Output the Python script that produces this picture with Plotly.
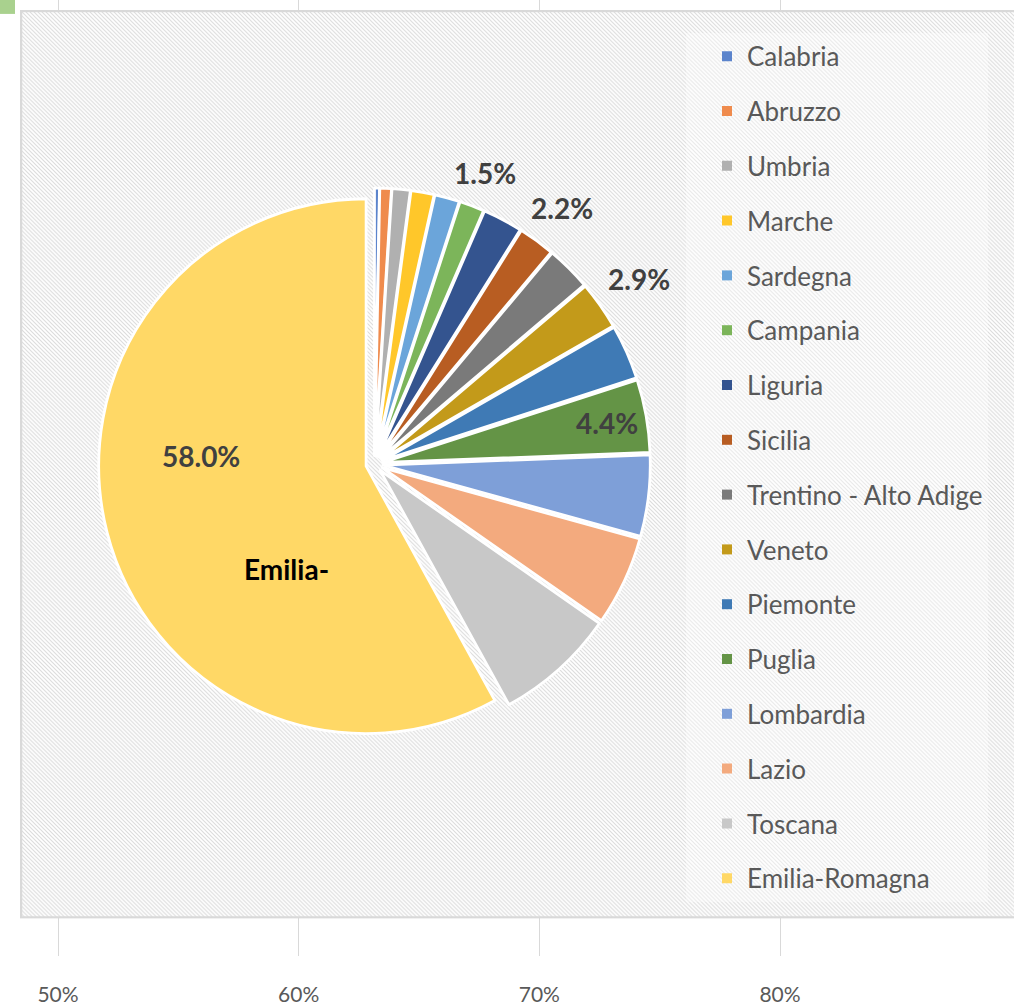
import base64
import math
import plotly.graph_objects as go

# ---- data -------------------------------------------------------------
regions = ["Calabria", "Abruzzo", "Umbria", "Marche", "Sardegna", "Campania",
           "Liguria", "Sicilia", "Trentino - Alto Adige", "Veneto", "Piemonte",
           "Puglia", "Lombardia", "Lazio", "Toscana", "Emilia-Romagna"]
shares = [0.3, 0.7, 1.1, 1.4, 1.5, 1.5, 2.4, 2.2, 2.7, 2.9, 3.3, 4.4, 4.9, 5.4, 7.3, 58.0]
labelled_outside = ["Campania", "Sicilia", "Veneto"]
labelled_inside = ["Puglia"]
axis_ticks = [0.5, 0.6, 0.7, 0.8]
axis_ticktext = ["50%", "60%", "70%", "80%"]

colors = ["#5B84CC", "#EF8B4D", "#B0B0B0", "#FFC72A", "#6BA5DA", "#7CB55A",
          "#34548F", "#B85D22", "#7A7A7A", "#C39A1A", "#3F7AB5", "#649446",
          "#7E9FD8", "#F3AA7E", "#C8C8C8", "#FFD866"]

W, H = 1014, 1006
PULL = 0.032
dom_x = [0.09546, 0.6430]
dom_y = [0.26004, 0.81193]

# ---- hatched background as an inline SVG image ------------------------
svg = """<svg xmlns='http://www.w3.org/2000/svg' width='1000' height='914'>
<defs><pattern id='p' width='4' height='4' patternUnits='userSpaceOnUse'>
<rect width='4' height='4' fill='white'/>
<path d='M-1,3 L1,5 M0,0 L4,4 M3,-1 L5,1' stroke='#dcdcdc' stroke-width='1.1'/>
</pattern></defs>
<rect x='1' y='1' width='1010' height='912' fill='url(#p)' stroke='#d9d9d9' stroke-width='2.5'/>
</svg>"""
svg_uri = "data:image/svg+xml;base64," + base64.b64encode(svg.encode()).decode()

fig = go.Figure()
fig.add_trace(go.Pie(
    labels=regions, values=shares, sort=False, direction="clockwise", rotation=0,
    marker=dict(colors=colors, line=dict(color="white", width=2.8)),
    pull=[PULL] * len(regions), textinfo="none",
    domain=dict(x=dom_x, y=dom_y),
    showlegend=False, hoverinfo="label+percent",
))

# legend entries (one group per region to control spacing)
for r, c in zip(regions, colors):
    fig.add_trace(go.Scatter(
        x=[None], y=[None], mode="markers", name=r, legendgroup=r,
        marker=dict(symbol="square", size=10, color=c),
        showlegend=True, xaxis="x", yaxis="y", hoverinfo="skip",
    ))

# ---- data labels placed from the pie geometry --------------------------
cx = (dom_x[0] + dom_x[1]) / 2 * W
cy = (1 - (dom_y[0] + dom_y[1]) / 2) * H
half = min((dom_x[1] - dom_x[0]) * W, (dom_y[1] - dom_y[0]) * H) / 2
rad = half / (1 + PULL)
r_out = rad * (1 + PULL)
total = sum(shares)
label_font = dict(family="Lato", size=28, color="#404040", weight="bold")
cum = 0.0
for name, v in zip(regions, shares):
    mid = (cum + v / 2) / total * 2 * math.pi
    cum += v
    dx, dy = math.sin(mid), -math.cos(mid)
    if name in labelled_outside:
        d = r_out + 14 + abs(dx) * 30 + abs(dy) * 12
    elif name in labelled_inside:
        d = rad * 0.88
    else:
        continue
    fig.add_annotation(x=(cx + dx * d) / W, y=1 - (cy + dy * d) / H,
                       xref="paper", yref="paper", xanchor="center", yanchor="middle",
                       text="%.1f%%" % (v / total * 100), showarrow=False, font=label_font)

# Emilia-Romagna labels
fig.add_annotation(x=201 / W, y=1 - 459 / H, xref="paper", yref="paper",
                   xanchor="center", yanchor="middle",
                   text="%.1f%%" % (shares[-1] / total * 100), showarrow=False, font=label_font)
fig.add_annotation(x=286 / W, y=1 - 572 / H, xref="paper", yref="paper",
                   xanchor="center", yanchor="middle",
                   text="Emilia-", showarrow=False,
                   font=dict(family="Lato", size=28, color="#000000", weight="bold"))

x_range = [0.5 - 58 / 2406.7, 0.5 - 58 / 2406.7 + W / 2406.7]
fig.update_layout(
    width=W, height=H, margin=dict(l=0, r=0, t=0, b=0),
    paper_bgcolor="white", plot_bgcolor="rgba(0,0,0,0)",
    xaxis=dict(domain=[0, 1], anchor="y", range=x_range, tickvals=axis_ticks,
               ticktext=axis_ticktext, showgrid=True, gridcolor="#d9d9d9", gridwidth=1.3,
               ticks="outside", ticklen=20, tickcolor="rgba(0,0,0,0)",
               zeroline=False, showline=False, fixedrange=True,
               tickfont=dict(family="Lato", size=21, color="#595959")),
    yaxis=dict(domain=[44 / H, 82 / H], range=[0, 1], showgrid=False, zeroline=False,
               showticklabels=False, fixedrange=True),
    xaxis2=dict(domain=[0, 1], anchor="y2", range=x_range, tickvals=axis_ticks,
                showgrid=True, gridcolor="#d9d9d9", gridwidth=1.3, showticklabels=False,
                zeroline=False, showline=False, fixedrange=True),
    yaxis2=dict(domain=[1 - 10 / H, 1], range=[0, 1], showgrid=False, zeroline=False,
                showticklabels=False, fixedrange=True),
    legend=dict(x=686 / W, y=1 - 33 / H, xanchor="left", yanchor="top",
                bgcolor="rgba(255,255,255,0.35)", borderwidth=0,
                font=dict(family="Lato", size=26, color="#595959"),
                tracegroupgap=18, indentation=21, itemclick=False, itemdoubleclick=False),
    images=[dict(source=svg_uri, xref="paper", yref="paper", x=20 / W, y=1 - 10 / H,
                 sizex=1000 / W, sizey=914 / H, xanchor="left", yanchor="top",
                 sizing="stretch", layer="below")],
    shapes=[dict(type="rect", xref="paper", yref="paper", x0=0, x1=15 / W,
                 y0=1 - 14 / H, y1=1, fillcolor="#A9D18E", line=dict(width=0))],
)

fig.add_trace(go.Scatter(x=[None], y=[None], xaxis="x2", yaxis="y2", showlegend=False))

fig.write_html("out.html", config={"displayModeBar": False},
               post_script="document.body.style.margin='0px';")
